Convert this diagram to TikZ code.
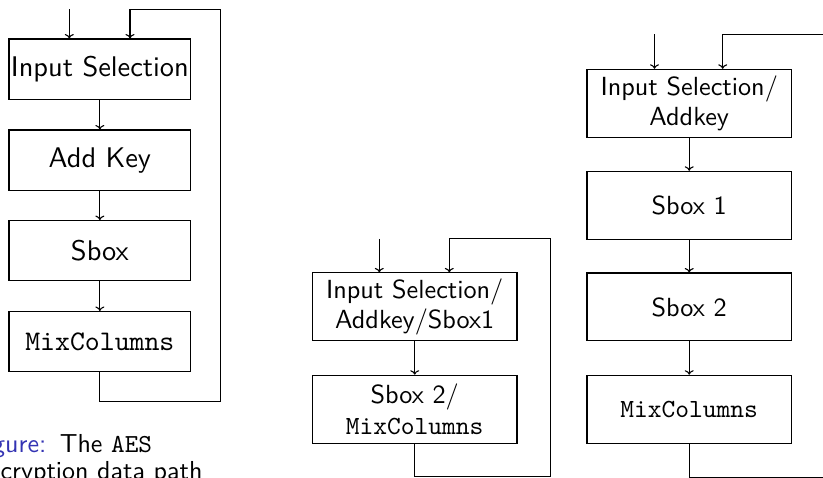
\documentclass[tikz,border=0pt]{standalone}
\usepackage{fontspec}
\setsansfont{lmsans10-regular.otf}
\setmonofont{lmmono10-regular.otf}
\usetikzlibrary{arrows.meta}
\definecolor{capblue}{RGB}{51,51,179}
\begin{document}
\begin{tikzpicture}[x=1pt,y=-1pt,
  conn/.style={line width=1.1pt,black},
  arr/.style={conn,-{To[length=4.5pt,width=9pt]}},
  lbox/.style={draw,line width=1.1pt,inner sep=0pt,minimum width=181.7pt,minimum height=60.3pt,
    font=\fontsize{28.4}{33}\selectfont\sffamily},
  rbox/.style={draw,line width=1.1pt,inner sep=0pt,minimum width=204.5pt,minimum height=67.9pt,
    align=center,font=\fontsize{26.2}{30.5}\selectfont\sffamily},
  captxt/.style={inner sep=0pt,font=\fontsize{26}{27.5}\selectfont\sffamily}]
\useasboundingbox (0,0) rectangle (823,478);
\clip (0,0) rectangle (823,478);

% ---------- left: AES encryption data path ----------
\node[lbox] (l1) at (99.85,69.2) {Input Selection};
\node[lbox] (l2) at (99.85,160.2) {Add Key};
\node[lbox] (l3) at (99.85,250.8) {Sbox};
\node[lbox] (l4) at (99.85,341.7) {\ttfamily MixColumns};
\coordinate (lin) at (69.3,9.3);
\coordinate (lfbtop) at (130,9.3);
\coordinate (lfbr) at (220.7,9.3);
\coordinate (lfbb) at (220.7,401.7);
\draw[arr] (lin) -- (lin |- l1.north);
\draw[arr] (l1) -- (l2);
\draw[arr] (l2) -- (l3);
\draw[arr] (l3) -- (l4);
\draw[arr] (l4.south) |- (lfbb) -- (lfbr) -- (lfbtop) -- (lfbtop |- l1.north);

\node[captxt,anchor=base west] (cap1) at (-29,452.5) {{\color{capblue}Figure:}\hspace{13.5pt}The \texttt{AES}};
\node[captxt,anchor=base west] (cap2) at (-28.5,479.5) {Encryption data path};

% ---------- middle: two-stage ----------
\node[rbox] (m1) at (414.7,306.9) {Input Selection/\\Addkey/Sbox1};
\node[rbox] (m2) at (414.7,409.2) {Sbox 2/\\\ttfamily MixColumns};
\coordinate (min) at (379.3,238.8);
\coordinate (mfbtop) at (449.3,238.8);
\coordinate (mfbr) at (550.5,238.8);
\coordinate (mfbb) at (550.5,476.7);
\draw[arr] (min) -- (min |- m1.north);
\draw[arr] (m1) -- (m2);
\draw[arr] (m2.south) |- (mfbb) -- (mfbr) -- (mfbtop) -- (mfbtop |- m1.north);

% ---------- right: four-stage ----------
\node[rbox] (r1) at (689.2,103.3) {Input Selection/\\Addkey};
\node[rbox] (r2) at (689.2,205.3) {Sbox 1};
\node[rbox] (r3) at (689.2,307.0) {Sbox 2};
\node[rbox] (r4) at (689.2,409.2) {\ttfamily MixColumns};
\coordinate (rin) at (654.5,34.4);
\coordinate (rfbtop) at (722.7,34.4);
\coordinate (rfbr) at (840,34.4);
\coordinate (rfbb) at (840,477.3);
\draw[arr] (rin) -- (rin |- r1.north);
\draw[arr] (r1) -- (r2);
\draw[arr] (r2) -- (r3);
\draw[arr] (r3) -- (r4);
\draw[arr] (r4.south) |- (rfbb) -- (rfbr) -- (rfbtop) -- (rfbtop |- r1.north);
\end{tikzpicture}
\end{document}
